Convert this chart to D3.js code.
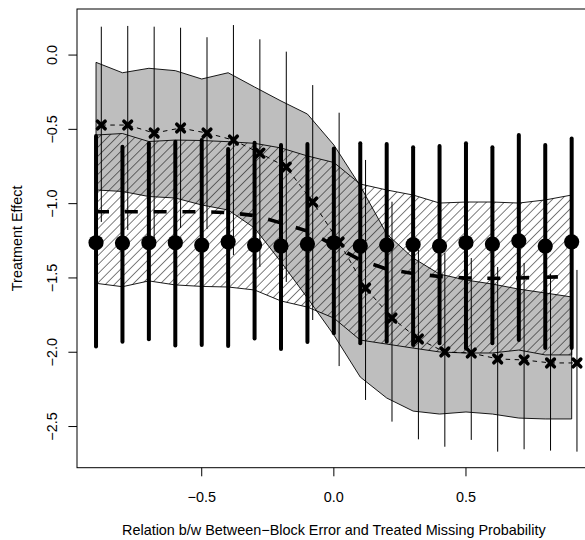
<!DOCTYPE html>
<html lang="en">
<head>
<meta charset="UTF-8">
<title>Treatment Effect</title>
<style>
  body { margin: 0; background: #fff; }
  svg text { font-family: "Liberation Sans", Arial, Helvetica, sans-serif; font-size: 14.4px; fill: #000; }
</style>
</head>
<body>
<svg width="585" height="540" id="viz"></svg>
<script src="https://d3js.org/d3.v7.min.js"></script>
<script>
// relation values (x grid) and tick labels
const rel = [-0.9, -0.8, -0.7, -0.6, -0.5, -0.4, -0.3, -0.2, -0.1, 0.0, 0.1, 0.2, 0.3, 0.4, 0.5, 0.6, 0.7, 0.8, 0.9];
const xTicks = [-0.5, 0.0, 0.5];
const yTicks = [0.0, -0.5, -1.0, -1.5, -2.0, -2.5];

// circles with thick bars
const circEst = [-1.263, -1.265, -1.263, -1.263, -1.279, -1.257, -1.279, -1.285, -1.272, -1.263, -1.285, -1.279, -1.275, -1.285, -1.263, -1.272, -1.250, -1.285, -1.257];
const circHi  = [-0.545, -0.617, -0.594, -0.583, -0.572, -0.633, -0.590, -0.606, -0.599, -0.628, -0.594, -0.599, -0.621, -0.612, -0.594, -0.621, -0.538, -0.606, -0.561];
const circLo  = [-1.962, -1.929, -1.913, -1.955, -1.952, -1.958, -1.908, -1.978, -1.931, -1.873, -1.940, -1.929, -1.952, -1.940, -1.974, -1.940, -1.918, -1.972, -1.972];

// dashed line series
const dashEst = [-1.054, -1.054, -1.054, -1.054, -1.054, -1.060, -1.080, -1.130, -1.185, -1.280, -1.380, -1.440, -1.470, -1.490, -1.500, -1.503, -1.500, -1.495, -1.490];

// crosses with thin bars (drawn slightly to the right)
const crossEst = [-0.471, -0.471, -0.525, -0.491, -0.525, -0.572, -0.660, -0.754, -0.989, -1.258, -1.568, -1.770, -1.911, -1.998, -2.005, -2.045, -2.052, -2.072, -2.072];
const crossHi  = [0.191, 0.196, 0.191, 0.184, 0.120, 0.202, 0.106, 0.023, -0.202, -0.388, -0.706, -0.987, -1.312, -1.332, -1.366, -1.426, -1.399, -1.473, -1.446];
const crossLo  = [-1.123, -1.177, -1.231, -1.164, -1.171, -1.346, -1.426, -1.527, -1.783, -2.093, -2.321, -2.467, -2.586, -2.636, -2.590, -2.669, -2.653, -2.662, -2.669];

// gray band
const grayHi = [-0.049, -0.119, -0.089, -0.105, -0.161, -0.119, -0.215, -0.309, -0.397, -0.605, -0.881, -1.204, -1.366, -1.474, -1.514, -1.541, -1.575, -1.601, -1.628];
const grayLo = [-0.908, -0.918, -0.952, -0.962, -1.009, -1.043, -1.164, -1.393, -1.635, -1.884, -2.167, -2.308, -2.396, -2.416, -2.402, -2.416, -2.443, -2.449, -2.449];

// hatched band
const hatchHi = [-0.538, -0.528, -0.582, -0.572, -0.575, -0.583, -0.594, -0.625, -0.679, -0.723, -0.868, -0.908, -0.942, -0.996, -0.989, -0.989, -0.996, -0.975, -0.942];
const hatchLo = [-1.536, -1.559, -1.520, -1.547, -1.557, -1.561, -1.581, -1.655, -1.696, -1.770, -1.918, -1.945, -1.972, -1.998, -2.005, -2.005, -1.985, -2.018, -2.018];

const crossShift = 0.02;

const svg = d3.select("#viz");
const box = {left: 77, right: 590.7, top: 9, bottom: 467.7};

const x = d3.scaleLinear().domain([-0.972, 0.972]).range([box.left, box.right]);
const y = d3.scaleLinear().domain([-2.777, 0.31]).range([box.bottom, box.top]);

// hatch pattern
const defs = svg.append("defs");
defs.append("pattern")
    .attr("id", "hatch")
    .attr("patternUnits", "userSpaceOnUse")
    .attr("width", 6.4)
    .attr("height", 6.4)
    .attr("patternTransform", "rotate(45)")
  .append("line")
    .attr("x1", 0).attr("y1", 0)
    .attr("x2", 0).attr("y2", 6.4)
    .attr("stroke", "#000")
    .attr("stroke-width", 1);

defs.append("clipPath").attr("id", "plotclip")
  .append("rect")
    .attr("x", box.left).attr("y", box.top)
    .attr("width", box.right - box.left).attr("height", box.bottom - box.top);

const g = svg.append("g").attr("clip-path", "url(#plotclip)");

const band = (hi, lo) => d3.area()
    .x((d, i) => x(rel[i]))
    .y0((d, i) => y(lo[i]))
    .y1((d, i) => y(hi[i]));

g.append("path")
    .datum(rel)
    .attr("d", band(grayHi, grayLo))
    .attr("fill", "#bebebe")
    .attr("stroke", "#000")
    .attr("stroke-width", 0.9);

g.append("path")
    .datum(rel)
    .attr("d", band(hatchHi, hatchLo))
    .attr("fill", "url(#hatch)")
    .attr("stroke", "#000")
    .attr("stroke-width", 0.9);

// crosses: dashed connecting line, thin bars, markers
g.append("path")
    .datum(rel)
    .attr("d", d3.line().x((d, i) => x(d + crossShift)).y((d, i) => y(crossEst[i])))
    .attr("fill", "none")
    .attr("stroke", "#000")
    .attr("stroke-width", 1)
    .attr("stroke-dasharray", "4.5,4.5");

g.selectAll(".cbar")
  .data(rel)
  .enter().append("line")
    .attr("class", "cbar")
    .attr("x1", d => x(d + crossShift)).attr("x2", d => x(d + crossShift))
    .attr("y1", (d, i) => y(crossHi[i])).attr("y2", (d, i) => y(crossLo[i]))
    .attr("stroke", "#000")
    .attr("stroke-width", 1);

const cr = 3.8;
g.selectAll(".cross")
  .data(rel)
  .enter().append("path")
    .attr("class", "cross")
    .attr("transform", (d, i) => `translate(${x(d + crossShift)},${y(crossEst[i])})`)
    .attr("d", `M${-cr},${-cr}L${cr},${cr}M${-cr},${cr}L${cr},${-cr}`)
    .attr("stroke", "#000")
    .attr("stroke-width", 3.6)
    .attr("stroke-linecap", "round");

// thick dashed series
g.append("path")
    .datum(rel)
    .attr("d", d3.line().x(d => x(d)).y((d, i) => y(dashEst[i])))
    .attr("fill", "none")
    .attr("stroke", "#000")
    .attr("stroke-width", 3.6)
    .attr("stroke-dasharray", "13,15.8");

// circles with thick bars
g.selectAll(".bar")
  .data(rel)
  .enter().append("line")
    .attr("class", "bar")
    .attr("x1", d => x(d)).attr("x2", d => x(d))
    .attr("y1", (d, i) => y(circHi[i])).attr("y2", (d, i) => y(circLo[i]))
    .attr("stroke", "#000")
    .attr("stroke-width", 4)
    .attr("stroke-linecap", "round");

g.selectAll(".pt")
  .data(rel)
  .enter().append("circle")
    .attr("class", "pt")
    .attr("cx", d => x(d))
    .attr("cy", (d, i) => y(circEst[i]))
    .attr("r", 7.6)
    .attr("fill", "#000");

// box
svg.append("rect")
    .attr("x", box.left).attr("y", box.top)
    .attr("width", box.right - box.left).attr("height", box.bottom - box.top)
    .attr("fill", "none")
    .attr("stroke", "#000")
    .attr("stroke-width", 1);

const fmt = v => d3.format(".1f")(v).replace("-", "\u2212");

// x axis
const xAxis = svg.append("g");
xAxis.selectAll("line")
  .data(xTicks)
  .enter().append("line")
    .attr("x1", d => x(d)).attr("x2", d => x(d))
    .attr("y1", box.bottom).attr("y2", box.bottom + 8.6)
    .attr("stroke", "#000");
xAxis.selectAll("text")
  .data(xTicks)
  .enter().append("text")
    .attr("x", d => x(d))
    .attr("y", 501.5)
    .attr("text-anchor", "middle")
    .text(fmt);

// y axis
const yAxis = svg.append("g");
yAxis.selectAll("line")
  .data(yTicks)
  .enter().append("line")
    .attr("x1", box.left - 8.6).attr("x2", box.left)
    .attr("y1", d => y(d)).attr("y2", d => y(d))
    .attr("stroke", "#000");
yAxis.selectAll("text")
  .data(yTicks)
  .enter().append("text")
    .attr("transform", d => `translate(56.7,${y(d)}) rotate(-90)`)
    .attr("text-anchor", "middle")
    .text(fmt);

// axis titles
svg.append("text")
    .attr("x", (box.left + box.right) / 2)
    .attr("y", 535)
    .attr("text-anchor", "middle")
    .text("Relation b/w Between\u2212Block Error and Treated Missing Probability");

svg.append("text")
    .attr("transform", `translate(21.7,${(box.top + box.bottom) / 2}) rotate(-90)`)
    .attr("text-anchor", "middle")
    .text("Treatment Effect");
</script>
</body>
</html>
